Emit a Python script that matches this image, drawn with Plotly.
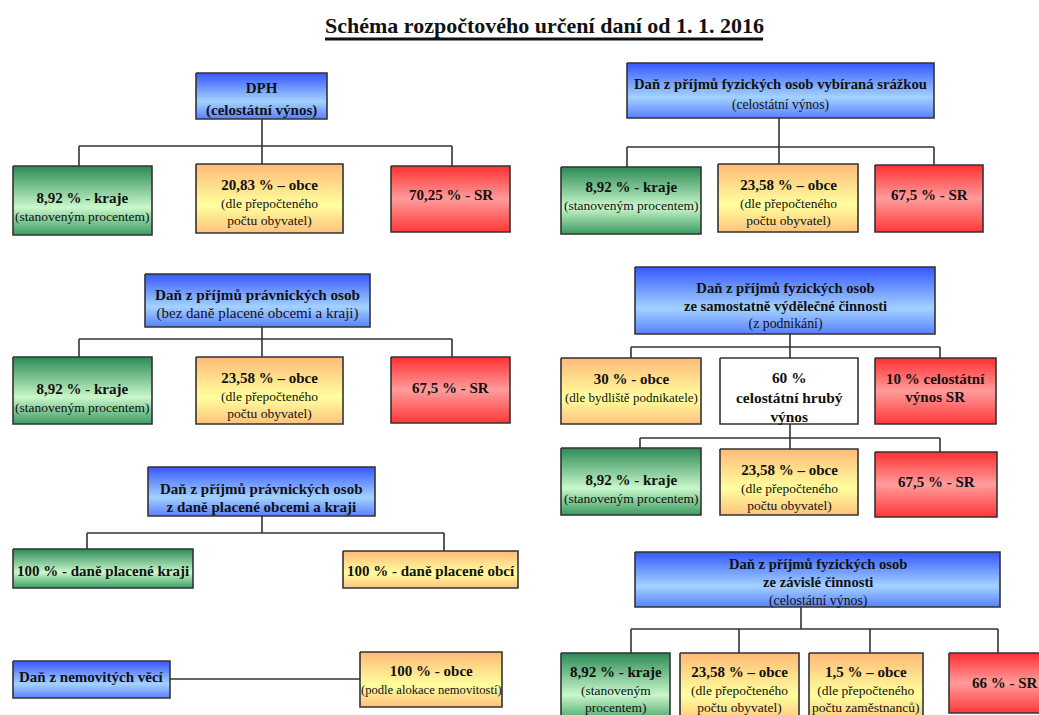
import plotly.graph_objects as go

FONT = "Liberation Serif, Times New Roman, serif"

# ---------------- data (texts) ----------------
title_text = "Schéma rozpočtového určení daní od 1. 1. 2016"

dph_head = ["DPH", "(celostátní výnos)"]
dph_shares = ["8,92 % - kraje", "20,83 % – obce", "70,25 % - SR"]
dph_notes = ["(stanoveným procentem)", "(dle přepočteného<br>počtu obyvatel)", ""]

srazka_head = ["Daň z příjmů fyzických osob vybíraná srážkou", "(celostátní výnos)"]
srazka_shares = ["8,92 % - kraje", "23,58 % – obce", "67,5 % - SR"]
srazka_notes = ["(stanoveným procentem)", "(dle přepočteného<br>počtu obyvatel)", ""]

dppo_head = ["Daň z příjmů právnických osob", "(bez daně placené obcemi a kraji)"]
dppo_shares = ["8,92 % - kraje", "23,58 % – obce", "67,5 % - SR"]
dppo_notes = ["(stanoveným procentem)", "(dle přepočteného<br>počtu obyvatel)", ""]

podn_head = ["Daň z příjmů fyzických osob", "ze samostatně výdělečné činnosti", "(z podnikání)"]
podn_shares = ["30 % - obce", "60 %<br>celostátní hrubý<br>výnos", "10 % celostátní<br>výnos SR"]
podn_notes = ["(dle bydliště podnikatele)", "", ""]
podn_sub_shares = ["8,92 % - kraje", "23,58 % – obce", "67,5 % - SR"]
podn_sub_notes = ["(stanoveným procentem)", "(dle přepočteného<br>počtu obyvatel)", ""]

obce_kraje_head = ["Daň z příjmů právnických osob", "z daně placené obcemi a kraji"]
obce_kraje_shares = ["100 % - daně placené kraji", "100 % - daně placené obcí"]
obce_kraje_notes = ["", ""]

nemov_head = ["Daň z nemovitých věcí"]
nemov_shares = ["100 % - obce"]
nemov_notes = ["(podle alokace nemovitostí)"]

zav_head = ["Daň z příjmů fyzických osob", "ze závislé činnosti", "(celostátní výnos)"]
zav_shares = ["8,92 % - kraje", "23,58 % – obce", "1,5 % – obce", "66 % - SR"]
zav_notes = ["(stanoveným<br>procentem)", "(dle přepočteného<br>počtu obyvatel)",
             "(dle přepočteného<br>počtu zaměstnanců)", ""]

# ---------------- styles ----------------
GRAD = {
    "blue": [[0, "#3658ff"], [0.62, "#a3d2ff"], [1, "#5a80ff"]],
    "green": [[0, "#2c8a55"], [0.6, "#c9f7cb"], [1, "#3c9b62"]],
    "orange": [[0, "#ffba78"], [0.6, "#ffff9e"], [1, "#ffc27d"]],
    "red": [[0, "#ff3030"], [0.5, "#ff9c9c"], [1, "#ff3838"]],
    "white": [[0, "#ffffff"], [1, "#ffffff"]],
}
LINE_C = "#333333"
TXT_C = "#111111"
MAIN_PX = 15
NOTE_PX = 13.5


def head_label(lines, nbold, bold_px, norm_px):
    out = []
    for i, t in enumerate(lines):
        if i < nbold:
            out.append(f"<span style='font-size:{bold_px}px'><b>{t}</b></span>")
        else:
            out.append(f"<span style='font-size:{norm_px}px'>{t}</span>")
    return "<br>".join(out)


def share_label(main, note, note_px=NOTE_PX):
    s = f"<span style='font-size:{MAIN_PX}px'><b>{main}</b></span>"
    if note:
        s += f"<br><span style='font-size:{note_px}px'>{note}</span>"
    return s


# ---------------- geometry of the scheme ----------------
# head: (x0, y0, x1, y1, text dy); kids: (x0, y0, x1, y1, colour, text dy)
groups = [
    dict(head=(196, 73, 327, 119, 3), head_text=dph_head, nbold=2, base=17, bpx=15, npx=15,
         stem=262, bus=146,
         kids=[(13, 166, 152, 235, "green", 6), (196, 164, 343, 233, "orange", 4),
               (391, 166, 510, 232, "red", -4)],
         drops=[79, 262, 452], shares=dph_shares, notes=dph_notes),
    dict(head=(627, 63, 934, 118, 3.5), head_text=srazka_head, nbold=1, base=15.4, bpx=14.7, npx=13.6,
         stem=779, bus=147,
         kids=[(561, 167, 701, 234, "green", -5), (718, 164, 858, 232, "orange", 4.5),
               (875, 165, 983, 232, "red", -3.5)],
         drops=[627, 779, 934], shares=srazka_shares, notes=srazka_notes),
    dict(head=(145, 274, 370, 327, 3.5), head_text=dppo_head, nbold=1, base=14, bpx=15.2, npx=15,
         stem=262, bus=339,
         kids=[(13, 357, 152, 424, "green", 7), (196, 357, 343, 424, "orange", 4.5),
               (391, 357, 510, 423, "red", -2)],
         drops=[79, 262, 452], shares=dppo_shares, notes=dppo_notes),
    dict(head=(635, 267, 935, 334, 5), head_text=podn_head, nbold=2, base=13.5, bpx=14.6, npx=13.8,
         stem=790, bus=347,
         kids=[(561, 358, 701, 424, "orange", -3.5), (720, 358, 858, 424, "white", 6),
               (875, 358, 996, 424, "red", -3)],
         drops=[631, 790, 940], shares=podn_shares, notes=podn_notes),
    dict(head=None, stem_from=(790, 424), bus=438,
         kids=[(561, 448, 701, 515, "green", 7), (720, 449, 858, 515, "orange", 5),
               (875, 452, 997, 517, "red", -2.5)],
         drops=[640, 790, 940], shares=podn_sub_shares, notes=podn_sub_notes),
    dict(head=(148, 467, 375, 516, 6), head_text=obce_kraje_head, nbold=2, base=14, bpx=15, npx=15,
         stem=262, bus=533,
         kids=[(13, 549, 193, 588, "green", 2.5), (343, 551, 518, 588, "orange", 1.5)],
         drops=[87, 444], shares=obce_kraje_shares, notes=obce_kraje_notes),
    dict(head=(635, 552, 1000, 607, 2.5), head_text=zav_head, nbold=2, base=13.8, bpx=14.6, npx=13.8,
         stem=801, bus=629,
         kids=[(561, 653, 670, 723, "green", 1), (680, 653, 799, 723, "orange", 1),
               (809, 653, 923, 723, "orange", 1), (949, 653, 1060, 713, "red", 0)],
         drops=[631, 739, 870, 998], shares=zav_shares, notes=zav_notes),
]

nem_head = (13, 661, 170, 698, -2.5)
nem_kid = (360, 652, 502, 707, "orange", 0)
nem_link_y = 679

fig = go.Figure()
annotations = []

# connectors first (boxes are drawn over them)
cx, cy = [], []
for g in groups:
    if g["head"] is not None:
        sx, sy = g["stem"], g["head"][3]
    else:
        sx, sy = g["stem_from"]
    cx += [sx, sx, None]
    cy += [sy, g["bus"], None]
    cx += [min(g["drops"]), max(g["drops"]), None]
    cy += [g["bus"], g["bus"], None]
    for dx, k in zip(g["drops"], g["kids"]):
        cx += [dx, dx, None]
        cy += [g["bus"], k[1] + 3, None]
cx += [nem_head[2], nem_kid[0], None]
cy += [nem_link_y, nem_link_y, None]

fig.add_trace(go.Scatter(x=cx, y=cy, mode="lines", line=dict(color=LINE_C, width=1.6),
                         hoverinfo="skip", showlegend=False))


def add_box(x0, y0, x1, y1, color, text, size, dy):
    fig.add_trace(go.Scatter(
        x=[x0, x1, x1, x0, x0], y=[y0, y0, y1, y1, y0], mode="lines",
        fill="toself",
        fillgradient=dict(type="vertical", colorscale=GRAD[color], start=y0, stop=y1),
        line=dict(color=LINE_C, width=1.6), hoverinfo="skip", showlegend=False))
    annotations.append(dict(x=(x0 + x1) / 2, y=(y0 + y1) / 2 + dy, xref="x", yref="y",
                            text=text, showarrow=False, align="center",
                            xanchor="center", yanchor="middle",
                            font=dict(family=FONT, size=size, color=TXT_C)))


for g in groups:
    if g["head"] is not None:
        x0, y0, x1, y1, dy = g["head"]
        add_box(x0, y0, x1, y1, "blue",
                head_label(g["head_text"], g["nbold"], g["bpx"], g["npx"]), g["base"], dy)
    for k, s, n in zip(g["kids"], g["shares"], g["notes"]):
        x0, y0, x1, y1, col, dy = k
        if col == "white":
            txt = f"<span style='font-size:15.4px'><b>{s}</b></span>"
            add_box(x0, y0, x1, y1, col, txt, 15, dy)
        else:
            npx = 13 if "bydliště" in n else NOTE_PX
            add_box(x0, y0, x1, y1, col, share_label(s, n, npx), 13.5, dy)

add_box(*nem_head[:4], "blue", head_label(nemov_head, 1, 15, 15), 14, nem_head[4])
add_box(*nem_kid[:4], nem_kid[4], share_label(nemov_shares[0], nemov_notes[0], 12.6), 13.5, nem_kid[5])

# title with thick underline
annotations.append(dict(x=544, y=25, xref="x", yref="y", text=f"<b>{title_text}</b>",
                        showarrow=False, xanchor="center", yanchor="middle",
                        font=dict(family=FONT, size=22, color=TXT_C)))
fig.add_trace(go.Scatter(x=[325, 763], y=[39, 39], mode="lines",
                         line=dict(color="#111111", width=2.8), hoverinfo="skip", showlegend=False))

fig.update_layout(
    width=1039, height=715, margin=dict(l=0, r=0, t=0, b=0),
    paper_bgcolor="white", plot_bgcolor="white", showlegend=False,
    xaxis=dict(range=[0, 1039], visible=False, fixedrange=True),
    yaxis=dict(range=[715, 0], visible=False, fixedrange=True),
    annotations=annotations,
)

fig.write_html("out.html", config={"displayModeBar": False},
               post_script="document.body.style.margin='0';document.body.style.overflow='hidden';")
